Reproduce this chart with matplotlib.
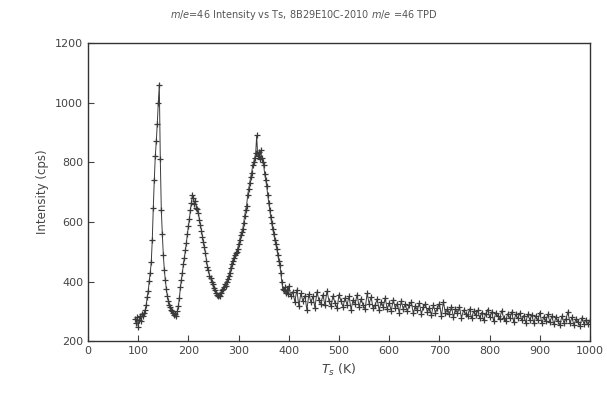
import numpy as np
import matplotlib.pyplot as plt

# peak region, sampled every 2 K from 94 K to 398 K
t_peaks = np.arange(94, 399, 2)
i_peaks = [
    275, 262, 281, 248, 270, 285, 268, 290, 283, 296,
    305, 322, 348, 368, 402, 430, 465, 540, 646, 740,
    820, 870, 930, 1000, 1060, 810, 640, 560, 490, 440,
    405, 375, 352, 336, 320, 315, 306, 300, 296, 288,
    292, 286, 300, 318, 345, 380, 405, 430, 458, 480,
    505, 530, 560, 585, 610, 640, 665, 690, 680, 660,
    670, 648, 642, 630, 605, 590, 570, 550, 532, 515,
    495, 470, 450, 440, 420, 412, 400, 392, 378, 370,
    362, 355, 350, 356, 352, 362, 370, 375, 380, 392,
    386, 400, 410, 418, 430, 445, 460, 470, 478, 490,
    495, 500, 510, 525, 540, 555, 565, 575, 595, 620,
    640, 655, 690, 710, 730, 750, 765, 790, 800, 815,
    830, 890, 820, 835, 810, 840, 815, 800, 790, 760,
    740, 720, 690, 665, 640, 615, 595, 575, 560, 540,
    525, 510, 490, 470, 455, 430, 400, 375, 372, 380,
    362, 370, 358,
]

# slow tail, sampled every 4 K from 400 K to 1000 K
t_tail = np.arange(400, 1001, 4)
i_tail = [
    385, 350, 366, 332, 372, 318, 360, 334, 352, 305,
    358, 330, 350, 312, 365, 338, 326, 356, 320, 368,
    336, 318, 352, 328, 310, 356, 334, 315, 345, 322,
    350, 306, 338, 326, 355, 315, 342, 320, 308, 360,
    326, 348, 310, 322, 340, 304, 332, 315, 345, 308,
    328, 302, 338, 312, 326, 296, 334, 308, 324, 300,
    322, 330, 294, 318, 304, 328, 292, 315, 324, 298,
    312, 288, 320, 296, 310, 326, 284, 332, 294, 308,
    290, 316, 280, 308, 294, 314, 278, 304, 292, 284,
    308, 276, 300, 288, 304, 278, 296, 270, 290, 306,
    280, 298, 268, 294, 286, 274, 302, 278, 268, 292,
    276, 298, 264, 290, 276, 294, 270, 286, 262, 290,
    272, 288, 262, 284, 270, 296, 260, 282, 268, 290,
    264, 284, 256, 280, 268, 254, 284, 262, 274, 298,
    260, 280, 254, 274, 264, 252, 278, 258, 272, 256,
    270,
]

temp = np.concatenate([t_peaks, t_tail])
intensity = np.array(i_peaks + i_tail)

fig = plt.figure(figsize=(6.07, 3.99), dpi=100)
ax = fig.add_axes([0.145, 0.145, 0.827, 0.747])

ax.plot(temp, intensity, color='#3a3a3a', lw=0.7, marker='+', ms=4.5, mew=0.9)

ax.set_xlim(0, 1000)
ax.set_ylim(200, 1200)
ax.set_xticks(range(0, 1001, 100))
ax.set_yticks(range(200, 1201, 200))
ax.tick_params(direction='in', length=4, labelsize=8, colors='#444444')
for s in ax.spines.values():
    s.set_color('#333333')
    s.set_linewidth(1.0)

ax.set_xlabel(r'$T_s$ (K)', fontsize=9, color='#444444')
ax.set_ylabel('Intensity (cps)', fontsize=8.5, color='#444444')
fig.text(0.5, 0.963, r'$m/e$=46 Intensity vs Ts, 8B29E10C-2010 $m/e$ =46 TPD',
         ha='center', va='center', fontsize=7, color='#555555')

fig.savefig('out.png', dpi=100)
